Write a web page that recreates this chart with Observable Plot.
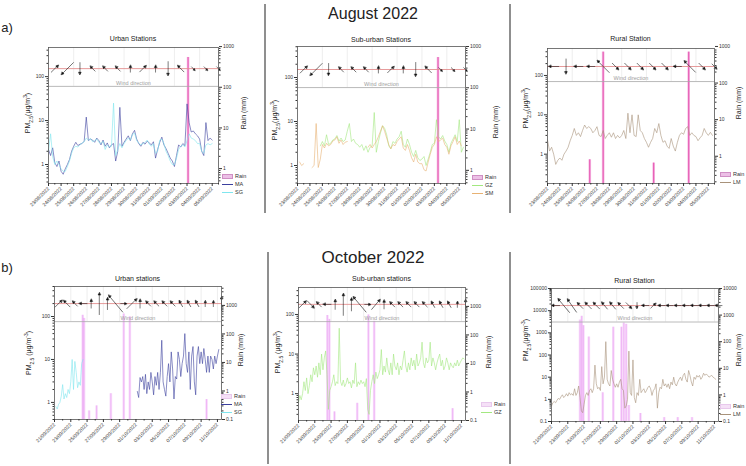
<!DOCTYPE html>
<html>
<head>
<meta charset="utf-8">
<script src="https://cdn.jsdelivr.net/npm/d3@7"></script>
<script src="https://cdn.jsdelivr.net/npm/@observablehq/plot@0.6"></script>
<style>
  body { margin: 0; background: #fff; }
  #fig { position: relative; width: 746px; height: 466px; overflow: hidden; font-family: "Liberation Sans", Arial, sans-serif; color: #222; background: #fff; }
  #fig svg { position: absolute; left: 0; top: 0; background: transparent !important; overflow: visible; font-family: "Liberation Sans", Arial, sans-serif; color: #333; }
  .t { position: absolute; white-space: nowrap; transform: translate(-50%, -50%); line-height: 1; }
  .vl { position: absolute; white-space: nowrap; transform: translate(-50%, -50%) rotate(-90deg); font-size: 7px; line-height: 1; color: #222; }
  .vl sub, .vl sup { font-size: 70%; line-height: 0; }
  .sep { position: absolute; width: 2px; background: #8f8f8f; }
  .leg { position: absolute; font-size: 5.5px; line-height: 8px; color: #333; overflow: hidden; }
  .leg div { position: relative; height: 8px; white-space: nowrap; }
  .sw { position: absolute; left: 0; top: 1.5px; width: 11px; height: 5px; box-sizing: border-box; }
  .ln { position: absolute; left: 0; top: 4px; width: 11px; height: 0; border-top: 1px solid; }
  .lb { position: absolute; left: 13px; top: 0; }
</style>
</head>
<body>
<div id="fig"></div>
<script>
// ---------------- data ----------------
// PM2.5 (µg/m³), 4-hourly values; rain events (mm); daily wind arrows (direction in degrees, arrow length ~ speed)

const augStart = "2022-08-23T00:00Z";
const octStart = "2022-09-21T00:00Z";

const augTickLabels = ["23/08/2022","24/08/2022","25/08/2022","26/08/2022","27/08/2022","28/08/2022","29/08/2022",
  "30/08/2022","31/08/2022","01/09/2022","02/09/2022","03/09/2022","04/09/2022","05/09/2022"];
const octTickLabels = ["21/09/2022","23/09/2022","25/09/2022","27/09/2022","29/09/2022","01/10/2022",
  "03/10/2022","05/10/2022","07/10/2022","09/10/2022","11/10/2022"];

// August — urban stations
const augMA = [2.2,1.6,2.4,1.1,0.9,1.2, 0.7,0.6,0.8,1.0,1.3,2.0, 2.6,3.2,2.7,2.9,3.0,3.4, 12,3.5,3.8,3.6,3.2,4.0,
  3.5,2.8,3.6,2.6,3.1,2.4, 2.8,3.0,1.2,2.0,20,2.6, 3.2,3.8,4.5,3.5,5.0,6.0, 3.8,3.0,2.6,3.2,2.9,3.4,
  3.1,2.8,3.3,1.4,2.2,3.2, 4.2,2.8,2.3,1.8,1.4,1.2, 0.9,1.6,2.8,2.5,3.0,2.7, 24,9,5.5,5.8,5.0,4.5,
  3.8,2.0,1.6,9.0,3.5,4.0, 3.6];
const augSG = [2.0,5.0,1.5,1.0,1.2,1.0, 0.8,0.7,0.7,0.9,1.2,1.8, 2.4,2.6,2.5,2.8,3.1,3.3, 4.0,3.6,3.9,3.3,3.5,3.8,
  3.2,3.0,3.4,2.2,2.8,2.5, 2.6,25,1.6,2.2,3.0,2.4, 3.0,3.5,4.0,3.6,4.8,5.2, 3.5,3.1,2.8,3.0,3.2,3.6,
  2.9,2.6,3.0,1.8,2.0,3.6, 3.8,3.0,2.0,1.6,1.2,1.0, 1.0,1.4,2.2,2.6,2.8,2.5, 3.5,5.0,4.0,3.8,3.5,3.0,
  3.0,2.0,1.8,2.8,3.0,2.8, 3.0];
// August — sub-urban stations
const augGZ = [null,null,null,null,null,null, null,null,null,null,null,2.8, 3.5,2.8,5.0,3.0,3.2,3.8, 4.0,4.8,3.6,4.2,3.5,3.8,
  6.0,9.0,3.5,4.0,3.2,3.0, 2.6,3.0,2.2,2.8,2.0,2.6, 2.8,16,2.0,3.5,5.5,8.0, 7.0,5.0,2.8,2.4,3.5,3.2,
  4.0,4.5,6.0,3.0,2.6,4.0, 3.0,2.0,1.6,2.2,1.5,1.3, 1.4,1.6,1.0,1.4,2.0,3.0, 3.2,11,4.5,4.0,4.8,3.6,
  3.0,2.0,3.2,4.0,5.0,3.5, 11,2.0,2.6];
const augSM = [null,1.2,1.0,1.1,null,null, null,0.9,1.0,9.0,0.9,1.4, 3.0,2.5,3.2,2.8,3.0,3.6, 3.8,4.5,3.2,3.8,3.0,3.4,
  3.5,null,null,null,null,null, null,null,null,null,2.6,3.0, 2.5,3.0,3.5,4.5,6.0,8.0, 6.0,4.2,3.0,2.4,3.0,2.8,
  3.5,4.0,4.5,2.5,2.2,3.0, 2.2,1.5,1.2,1.8,1.2,1.1, 1.1,0.8,0.75,1.2,1.8,2.6, 3.0,4.5,3.5,3.8,4.2,3.0,
  2.6,1.8,2.8,3.5,4.5,3.0, 3.6,2.8];
// August — rural station
const augLM = [2.3,1.2,1.5,1.0,0.55,0.7, 0.8,0.7,1.0,1.2,1.5,2.2, 3.0,4.5,3.0,3.5,2.8,4.0, 5.5,4.5,5.0,4.5,3.5,4.0,
  5.0,3.0,2.8,4.0,2.5,3.0, 3.5,2.7,3.5,2.5,3.0,2.6, 3.0,4.0,2.5,11,3.5,10, 3.0,2.8,10,4.0,3.5,2.5,
  2.0,1.5,2.0,2.5,4.5,3.5, 6.0,3.0,2.0,2.2,1.6,1.4, 2.5,1.6,1.2,2.0,3.0,3.5, 3.2,4.5,5.0,3.0,3.5,3.0,
  2.8,2.2,2.6,3.0,4.5,3.5, 3.0,3.6,3.0];

// October — urban stations (SG from 21/09 04:00, MA from 01/10 04:00)
const octSGStart = "2022-09-21T04:00Z";
const octSG = [0.8,0.7,0.9,1.0,1.4, 2.6,1.2,1.6,1.3,2.0,1.6, 3.0,10,2.0,9.0,5.0,2.2, 3.0,2.5,8.0,10];
const octMAStart = "2022-10-01T04:00Z";
const octMA = [1.8,1.3,3.8,3.0,4.0, 2.0,4.5,1.6,3.0,2.0,5.0, 3.0,1.5,4.0,2.5,5.0,2.0, 5.0,28,3.0,2.0,1.4,4.0,
  8.0,3.0,15,6.0,1.2,4.0, 3.5,15,10,4.0,8.0,12, 40,8.0,5.0,15,2.0,12, 20,3.0,1.5,12,20,8.0,
  15,8.0,18,10,5.0,12, 5.0,12,10,6.0,12,8.0, 12,17];
// October — sub-urban station
const octGZ = [0.6,0.9,0.7,1.0,2.0,1.2, 2.5,1.0,1.6,3.0,2.0,4.5, 3.0,5.0,2.6,6.0,3.0,10, 4.0,8.0,12,3.0,0.4,1.2,
  1.5,2.0,3.0,1.6,2.0,1.8, 45,2.0,1.6,2.2,1.5,1.8, 2.5,1.8,2.0,1.4,2.2,1.8, 6.0,1.5,2.0,1.7,2.2,1.8,
  2.0,1.5,2.4,0.4,0.3,1.2, 2.0,3.0,1.8,3.5,2.4,3.0, 4.0,13,3.0,5.0,3.5,8.0, 4.0,3.0,6.0,3.0,10,5.0,
  4.0,6.0,3.0,5.0,4.0,7.0, 12,5.0,3.5,6.0,4.0,8.0, 5.0,7.0,4.0,10,5.0,6.0, 8.0,20,6.0,4.5,8.0,6.0,
  7.0,20,5.0,8.0,6.0,4.0, 6.0,8.0,10,5.0,7.0,4.0, 5.0,8.0,6.0,4.0,6.0,5.0, 4.5,6.0,5.0,7.0,5.0,6.0,
  7.0,8.0,7.5];
// October — rural station
const octLM = [0.5,0.7,0.8,0.7,0.9,1.1, 1.0,1.3,1.6,1.2,1.4,1.8, 1.4,2.0,1.6,1.8,1.5,3.0, 1.5,2.0,4.0,1.2,0.3,0.25,
  0.6,1.5,2.0,1.5,2.5,3.0, 2.0,3.0,35,5.0,3.0,3.5, 2.5,30,5.0,10,400,8.0, 5.0,4.0,20,8.0,5.0,3.5,
  5.0,3.5,6.0,8.0,3.0,2.5, 0.4,0.5,1.0,150,2.0,1.5, 60,1.2,0.7,2.0,1.5,8.0, 2.0,2.5,3.0,2.0,2.5,3.5,
  4.0,3.0,1.5,2.5,3.0,5.0, 0.4,2.0,3.5,3.0,8.0,4.0, 5.0,3.5,5.0,3.0,6.0,4.5, 10,5.0,4.0,6.0,8.0,10,
  7.0,12,15,8.0,6.0,20, 12,6.0,4.0,10,8.0,12, 10,12,8.0,10,15,12, 14,12,10,11,12,10, 9.0,8.0];

// Rain events (mm)
const rainAugUrbanT = ["2022-09-03T02:00"];
const rainAugUrbanMM = [540];
const rainAugSuburbanT = ["2022-09-03T07:00"];
const rainAugSuburbanMM = [540];
const rainAugRuralT = ["2022-08-26T10:00","2022-08-27T12:00","2022-08-31T14:00","2022-09-03T10:00"];
const rainAugRuralMM = [0.8, 700, 0.65, 700];
const rainOctUrbanT = ["2022-09-24T11:00","2022-09-24T15:00","2022-09-25T06:00","2022-09-26T04:00","2022-09-27T22:00",
  "2022-09-29T12:00","2022-09-30T06:00","2022-10-09T16:00"];
const rainOctUrbanMM = [450, 350, 0.2, 0.3, 0.8, 500, 400, 0.5];
const rainOctSuburbanT = ["2022-09-24T13:00","2022-09-24T19:00","2022-09-25T10:00","2022-09-28T05:00",
  "2022-09-29T14:00","2022-09-30T07:00","2022-10-09T22:00"];
const rainOctSuburbanMM = [480, 350, 0.2, 0.4, 500, 300, 0.26];
const rainOctRuralT = ["2022-09-24T12:00","2022-09-24T17:00","2022-09-24T22:00","2022-09-25T14:00","2022-09-27T07:00",
  "2022-09-28T14:00","2022-09-29T14:00","2022-09-29T21:00","2022-09-30T04:00","2022-09-30T12:00","2022-10-01T22:00",
  "2022-10-04T20:00","2022-10-06T12:00","2022-10-08T06:00"];
const rainOctRuralMM = [650, 900, 400, 150, 1.2, 350, 350, 500, 450, 0.4, 0.2, 0.14, 0.14, 0.14];

// Wind: one arrow per day (direction the arrow points, degrees clockwise from north; length in px)
const windAugUrbanDir = [45, 225, 180, 315, 315, 315, 0, 45, 0, 180, 315, 135, 135, 135];
const windAugUrbanLen = [10, 17, 12, 7, 7, 7, 7, 9, 7, 14, 9, 5, 5, 5];
const windAugSuburbanDir = [45, 225, 180, 315, 315, 315, 0, 45, 0, 180, 315, 135, 135, 135];
const windAugSuburbanLen = [10, 17, 12, 7, 7, 7, 7, 9, 7, 14, 9, 5, 5, 5];
const windAugRuralDir = [270, 180, 270, 270, 315, 135, 135, 135, 135, 135, 270, 315, 135, 135];
const windAugRuralLen = [10, 15, 9, 8, 17, 9, 9, 9, 9, 9, 8, 16, 9, 7];
const windOctUrbanDir = [45, 315, 315, 270, 0, 0, 0, 320, 90, 45, 0, 315, 315, 315, 315, 330, 330, 330, 0, 0, 0];
const windOctUrbanLen = [10, 9, 7, 8, 9, 22, 12, 22, 6, 14, 9, 7, 7, 7, 7, 7, 7, 7, 6, 6, 14];
const windOctSuburbanDir = [45, 135, 315, 270, 0, 0, 0, 320, 90, 40, 0, 315, 315, 315, 315, 315, 330, 330, 330, 0, 0];
const windOctSuburbanLen = [10, 10, 7, 8, 10, 22, 13, 20, 6, 13, 9, 7, 7, 7, 7, 7, 7, 7, 7, 6, 10];
const windOctRuralDir = [270, 320, 325, 315, 315, 315, 320, 320, 315, 135, 180, 270, 45, 270, 270, 270, 270, 270, 270, 270, 270];
const windOctRuralLen = [8, 18, 16, 8, 9, 9, 9, 9, 8, 8, 6, 7, 7, 7, 7, 7, 7, 7, 7, 7, 7];

// ---------------- helpers ----------------
const W = 746, H = 466;
const HOUR = 3600e3, DAY = 24 * HOUR;
const fmt = d3.utcFormat("%d/%m/%Y");
const parseTick = d3.utcParse("%d/%m/%Y");

const toSeries = (start, vals) => {
  const t0 = new Date(start).getTime();
  return vals.map((v, i) => ({t: new Date(t0 + i * 4 * HOUR), v}));
};
const toEvents = (times, vals) => times.map((t, i) => ({t: new Date(t + "Z"), v: vals[i]}));
const toWind = (start, dirs, lens) => {
  const t0 = new Date(start).getTime();
  return dirs.map((d, i) => ({t: new Date(t0 + (i + 0.5) * DAY), dir: d, len: lens[i]}));
};
const logMinors = ([lo, hi]) => {
  const out = [];
  for (let e = Math.floor(Math.log10(lo)); e <= Math.ceil(Math.log10(hi)); e++)
    for (let m = 2; m <= 9; m++) {
      const v = +(m * Math.pow(10, e)).toPrecision(3);
      if (v >= lo && v <= hi) out.push(v);
    }
  return out;
};
const tickText = d => String(d);

// wind arrow with a small filled head
const arrowShape = {
  draw(context, l) {
    const h = Math.min(2.4, l * 0.35), w = h * 0.5;
    context.moveTo(0, 0);
    context.lineTo(0, -l + h * 0.8);
    context.moveTo(0, -l);
    context.lineTo(-w, -l + h);
    context.lineTo(w, -l + h);
    context.closePath();
  }
};

const fig = document.getElementById("fig");
function addText(html, x, y, size, extra = "") {
  const d = document.createElement("div");
  d.className = "t";
  d.style.cssText = `left:${x}px;top:${y}px;font-size:${size}px;${extra}`;
  d.innerHTML = html;
  fig.appendChild(d);
}
function addVLabel(html, x, y) {
  const d = document.createElement("div");
  d.className = "vl";
  d.style.left = x + "px"; d.style.top = y + "px";
  d.innerHTML = html;
  fig.appendChild(d);
}
function addSep(x, y1, y2) {
  const d = document.createElement("div");
  d.className = "sep";
  d.style.cssText = `left:${x - 1}px;top:${y1}px;height:${y2 - y1}px;`;
  fig.appendChild(d);
}
function addLegend(x, y, items, clipW = 40) {
  const box = document.createElement("div");
  box.className = "leg";
  box.style.cssText = `left:${x}px;top:${y}px;width:${clipW}px;`;
  for (const it of items) {
    const row = document.createElement("div");
    const mark = it.kind === "rect"
      ? `<span class="sw" style="background:${it.fill};border:0.6px solid ${it.stroke}"></span>`
      : `<span class="ln" style="border-color:${it.color}"></span>`;
    row.innerHTML = `${mark}<span class="lb">${it.label}</span>`;
    box.appendChild(row);
  }
  fig.appendChild(box);
}

function panel(c) {
  const [L, T, R, B] = c.frame;
  const base = {
    width: W, height: H,
    marginLeft: L, marginRight: W - R, marginTop: T, marginBottom: H - B
  };
  const xScale = {type: "utc", domain: c.xDomain};
  const rainBottom = c.rainDomain[0];

  const rain = Plot.plot({
    ...base,
    x: {...xScale, axis: null},
    y: {type: "log", domain: c.rainDomain},
    marks: [
      Plot.ruleX(c.rain, {x: "t", y1: rainBottom, y2: "v", stroke: c.rainLight, strokeWidth: c.rainWidth, strokeOpacity: c.rainOpacity}),
      Plot.ruleX(c.rain, {x: "t", y1: rainBottom, y2: "v", stroke: c.rainCore, strokeWidth: 0.9, strokeOpacity: c.coreOpacity}),
      Plot.axisY(c.rainTicks, {anchor: "right", tickSize: 3, tickPadding: 1.5, tickFormat: tickText, fontSize: 5, label: null}),
      Plot.axisY(logMinors(c.rainDomain), {anchor: "right", tickSize: 1.5, tickFormat: () => "", label: null})
    ]
  });

  const mid = new Date((c.xDomain[0].getTime() + c.xDomain[1].getTime()) / 2);
  const grid = c.xTicks.filter((d, i) => c.gridEvery === 1 || i % 2 === 0);
  const pmMarks = (shape) => [
    Plot.ruleX(grid, {x: d => d, y1: c.sepY, y2: c.pmDomain[1], stroke: "#e2e2e2", strokeWidth: 0.6}),
    Plot.ruleY([c.redY], {stroke: "#e39090", strokeWidth: 0.9}),
    Plot.ruleY([c.sepY], {stroke: "#a8a8a8", strokeWidth: 0.8}),
    Plot.text([{t: mid, y: c.sepY}], {x: "t", y: "y", text: () => "Wind direction", dy: -3.6, fill: "#a0a0a0", fontSize: 5.5}),
    ...c.lines.map(s => Plot.line(s.data, {x: "t", y: "v", stroke: s.color, strokeWidth: 0.6})),
    Plot.vector(c.wind, {x: "t", y: () => c.redY, rotate: "dir", length: "len", anchor: "middle",
      shape, stroke: "#111", fill: shape === "arrow" ? "none" : "#111", strokeWidth: 0.55, strokeLinejoin: "miter"}),
    Plot.frame({stroke: "#555", strokeWidth: 0.8}),
    Plot.axisY(c.pmTicks, {anchor: "left", tickSize: 3, tickPadding: 1.5, tickFormat: tickText, fontSize: 5, label: null}),
    Plot.axisY(logMinors(c.pmDomain), {anchor: "left", tickSize: 1.5, tickFormat: () => "", label: null}),
    Plot.axisX(c.xTicks, {tickRotate: -45, tickSize: 3, tickPadding: 1.5, tickFormat: fmt, fontSize: 5, label: null, fill: "#333"}),
    Plot.axisX(c.xMinor, {tickSize: 1.5, tickFormat: () => "", label: null})
  ];
  const pmOpts = {...base, x: xScale, y: {type: "log", domain: c.pmDomain}, length: {type: "identity"}};
  let pm;
  try { pm = Plot.plot({...pmOpts, marks: pmMarks(arrowShape)}); }
  catch (e) { pm = Plot.plot({...pmOpts, marks: pmMarks("arrow")}); }

  fig.appendChild(rain);
  fig.appendChild(pm);

  addText(c.title, (L + R) / 2, c.titleY, 7);
  addVLabel(c.yLabel, c.yLabelPos[0], c.yLabelPos[1]);
  addVLabel("Rain (mm)", c.rLabelPos[0], c.rLabelPos[1]);
  addLegend(c.legendPos[0], c.legendPos[1], [
    {kind: "rect", fill: c.rainSwatch, stroke: c.rainSwatchStroke, label: "Rain"},
    ...c.lines.map(s => ({kind: "line", color: s.color, label: s.name}))
  ], c.legendClip);
}

// ---------------- panels ----------------
const augTicks = augTickLabels.map(parseTick);
const octTicks = octTickLabels.map(parseTick);
const augDomain = [new Date(augStart), new Date("2022-09-05T12:00Z")];
const octDomain = [new Date(octStart), new Date("2022-10-11T12:00Z")];
const augMinor = augTicks.map(d => new Date(d.getTime() + DAY / 2));
const octMinor = octTicks.slice(0, -1).map(d => new Date(d.getTime() + DAY));

const colMA = "#3b3f9e", colSG = "#7fe6ef", colGZ = "#a3e880", colSM = "#e8b273", colLM = "#a8927a";
const augRain = {rainLight: "#f4a6dc", rainCore: "#df2f9c", rainWidth: 2.6, rainOpacity: 0.8, coreOpacity: 0.85,
  rainSwatch: "#ecc0e6", rainSwatchStroke: "#cf8fc4"};
const octRain = {rainLight: "#f0b2f6", rainCore: "#e27cee", rainWidth: 2.6, rainOpacity: 0.45, coreOpacity: 0.45,
  rainSwatch: "#f5e0f7", rainSwatchStroke: "#e8c8ec"};
const pmLabelAug = "PM<sub>2.5</sub>(μg/m<sup>3</sup>)";

addText("August 2022", 373, 14, 16);
addText("October 2022", 373, 257, 17);
addText("a)", 7, 27, 13);
addText("b)", 7, 267, 13);
addSep(265, 4, 213);
addSep(510, 4, 213);
addSep(268, 252, 464);
addSep(510, 252, 464);

panel({
  title: "Urban Stations", titleY: 38, frame: [48, 47, 218, 183],
  xDomain: augDomain, xTicks: augTicks, xMinor: augMinor, gridEvery: 2,
  pmDomain: [0.37, 460], pmTicks: [1, 10, 100], sepY: 60, redY: 152,
  rainDomain: [0.43, 950], rainTicks: [1, 10, 100, 1000],
  rain: toEvents(rainAugUrbanT, rainAugUrbanMM), ...augRain,
  wind: toWind(augStart, windAugUrbanDir, windAugUrbanLen),
  lines: [{name: "MA", color: colMA, data: toSeries(augStart, augMA)},
          {name: "SG", color: colSG, data: toSeries(augStart, augSG)}],
  yLabel: pmLabelAug, yLabelPos: [28, 113], rLabelPos: [243, 113],
  legendPos: [222, 172], legendClip: 30
});
panel({
  title: "Sub-urban Stations", titleY: 39, frame: [297, 46, 465, 183],
  xDomain: augDomain, xTicks: augTicks, xMinor: augMinor, gridEvery: 2,
  pmDomain: [0.39, 506], pmTicks: [1, 10, 100], sepY: 59, redY: 152,
  rainDomain: [0.48, 1000], rainTicks: [1, 10, 100, 1000],
  rain: toEvents(rainAugSuburbanT, rainAugSuburbanMM), ...augRain,
  wind: toWind(augStart, windAugSuburbanDir, windAugSuburbanLen),
  lines: [{name: "GZ", color: colGZ, data: toSeries(augStart, augGZ)},
          {name: "SM", color: colSM, data: toSeries(augStart, augSM)}],
  yLabel: pmLabelAug, yLabelPos: [275, 120], rLabelPos: [495, 122],
  legendPos: [472, 173], legendClip: 30
});
panel({
  title: "Rural Station", titleY: 38, frame: [547, 48, 714, 183],
  xDomain: augDomain, xTicks: augTicks, xMinor: augMinor, gridEvery: 2,
  pmDomain: [0.18, 484], pmTicks: [1, 10, 100], sepY: 70, redY: 169,
  rainDomain: [0.18, 880], rainTicks: [1, 10, 100, 1000],
  rain: toEvents(rainAugRuralT, rainAugRuralMM), ...augRain,
  wind: toWind(augStart, windAugRuralDir, windAugRuralLen),
  lines: [{name: "LM", color: colLM, data: toSeries(augStart, augLM)}],
  yLabel: pmLabelAug, yLabelPos: [526, 108], rLabelPos: [738, 103],
  legendPos: [720, 170], legendClip: 25
});
panel({
  title: "Urban stations", titleY: 278, frame: [54, 286, 221, 419],
  xDomain: octDomain, xTicks: octTicks, xMinor: octMinor, gridEvery: 1,
  pmDomain: [0.4, 500], pmTicks: [1, 10, 100], sepY: 76, redY: 200,
  rainDomain: [0.1, 4600], rainTicks: [0.1, 1, 10, 100, 1000],
  rain: toEvents(rainOctUrbanT, rainOctUrbanMM), ...octRain,
  wind: toWind(octStart, windOctUrbanDir, windOctUrbanLen),
  lines: [{name: "MA", color: colMA, data: toSeries(octMAStart, octMA)},
          {name: "SG", color: colSG, data: toSeries(octSGStart, octSG)}],
  yLabel: "PM<sub>2.5</sub> (μg/m<sup>-3</sup>)", yLabelPos: [29, 353], rLabelPos: [240, 350],
  legendPos: [221, 392], legendClip: 29
});
panel({
  title: "Sub-urban stations", titleY: 278, frame: [298, 287, 465, 420],
  xDomain: octDomain, xTicks: octTicks, xMinor: octMinor, gridEvery: 1,
  pmDomain: [0.21, 480], pmTicks: [1, 10, 100], sepY: 66, redY: 180,
  rainDomain: [0.1, 4600], rainTicks: [0.1, 1, 10, 100, 1000],
  rain: toEvents(rainOctSuburbanT, rainOctSuburbanMM), ...octRain,
  wind: toWind(octStart, windOctSuburbanDir, windOctSuburbanLen),
  lines: [{name: "GZ", color: colGZ, data: toSeries(octStart, octGZ)}],
  yLabel: "PM<sub>2.5</sub> (μg/m<sup>3</sup>)", yLabelPos: [278, 352], rLabelPos: [488, 352],
  legendPos: [481, 400], legendClip: 30
});
panel({
  title: "Rural Station", titleY: 280, frame: [551, 288, 718, 421],
  xDomain: octDomain, xTicks: octTicks, xMinor: octMinor, gridEvery: 1,
  pmDomain: [0.1, 100000], pmTicks: [0.1, 1, 10, 100, 1000, 10000, 100000], sepY: 3080, redY: 17000,
  rainDomain: [0.1, 10000], rainTicks: [0.1, 1, 10, 100, 1000, 10000],
  rain: toEvents(rainOctRuralT, rainOctRuralMM), ...octRain,
  wind: toWind(octStart, windOctRuralDir, windOctRuralLen),
  lines: [{name: "LM", color: colLM, data: toSeries(octStart, octLM)}],
  yLabel: "PM<sub>2.5</sub>(μg/m<sup>-3</sup>)", yLabelPos: [526, 340], rLabelPos: [738, 350],
  legendPos: [720, 402], legendClip: 25
});
</script>
</body>
</html>
